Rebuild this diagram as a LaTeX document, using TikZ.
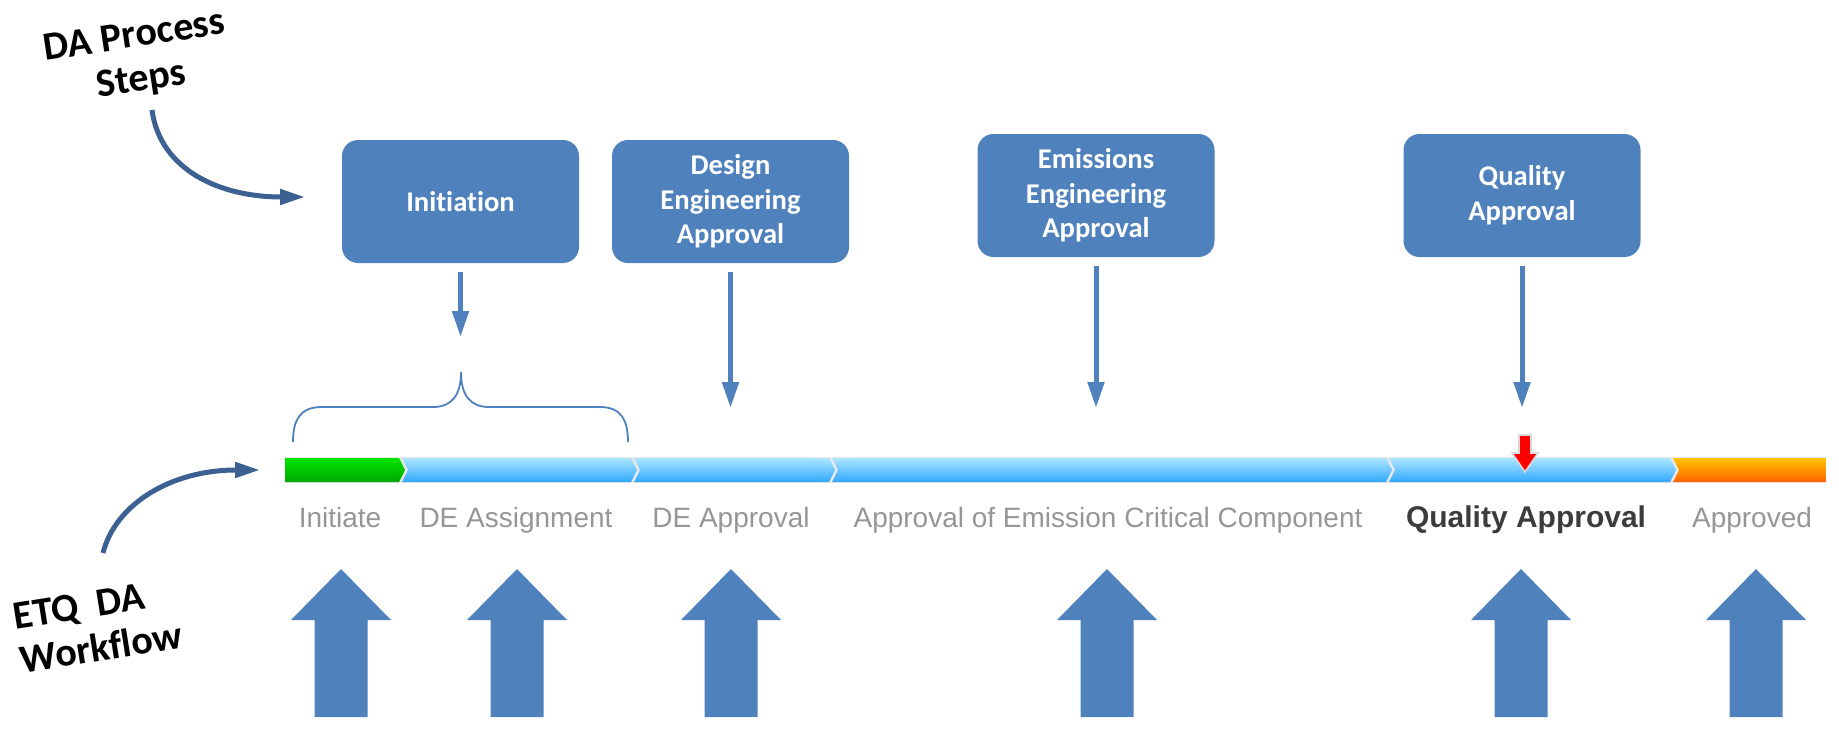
\documentclass[tikz,border=0pt]{standalone}
\usepackage{fontspec}
\setmainfont{Liberation Sans}
\newfontfamily\calibri[Ligatures=NoCommon]{Carlito}
\usetikzlibrary{arrows.meta}

\definecolor{boxblue}{RGB}{79,129,189}
\definecolor{curveblue}{RGB}{60,96,145}
\definecolor{labelgray}{RGB}{150,150,150}
\definecolor{darklabel}{RGB}{60,60,60}
\definecolor{bluetop}{RGB}{172,230,255}
\definecolor{bluebot}{RGB}{48,168,255}
\definecolor{greentop}{RGB}{0,228,0}
\definecolor{greenbot}{RGB}{0,168,0}
\definecolor{orangetop}{RGB}{255,196,0}
\definecolor{orangebot}{RGB}{255,98,0}

\tikzset{
  stepbox/.style={fill=boxblue, rounded corners=8pt, minimum width=118.5pt,
    minimum height=61.5pt, inner sep=0pt, text=white, align=center,
    font=\calibri\bfseries\fontsize{14.3}{17.3}\selectfont},
  callout/.style={align=center, inner sep=0pt,
    font=\calibri\bfseries\fontsize{20}{22}\selectfont},
  steplabel/.style={anchor=base, inner sep=0pt, text=labelgray,
    font=\fontsize{14}{17}\selectfont},
  steparrow/.style={boxblue, line width=2.5pt, shorten <=4.5pt,
    -{Triangle[length=13pt,width=8pt]}},
  curvearrow/.style={curveblue, line width=2.5pt,
    -{Triangle[length=12.5pt,width=7.5pt]}},
  greenbar/.style={top color=greentop, bottom color=greenbot},
  bluebar/.style={top color=bluetop, bottom color=bluebot},
  orangebar/.style={top color=orangetop, bottom color=orangebot}
}

\begin{document}
\begin{tikzpicture}[x=0.5pt,y=-0.5pt]
  \useasboundingbox (0,0) rectangle (1839,728);

  % DA process steps
  \path
    (460.5,201.5) node[stepbox] (init){Initiation}
    (730.5,201.5) node[stepbox] (design){Design\\Engineering\\Approval}
    (1096,195.5) node[stepbox] (emis){Emissions\\Engineering\\Approval}
    (1522,195.5) node[stepbox] (qual){Quality\\Approval};

  % side captions
  \node[callout, rotate=8.6] (proc) at (138,59) {DA Process\\Steps};
  \node[callout, rotate=9, align=left] (etq) at (98,626) {ETQ\ \ DA\\Workflow};

  \coordinate (procfrom) at (152,110);
  \coordinate (procto) at (305,197);
  \coordinate (etqfrom) at (103,553);
  \coordinate (etqto) at (260,470);
  \draw[curvearrow] (procfrom) .. controls (160,170) and (220,197) .. (procto);
  \draw[curvearrow] (etqfrom) .. controls (115,505) and (170,470) .. (etqto);

  % step arrows
  \coordinate (initend) at (460.5,337);
  \coordinate (designend) at (730.5,408);
  \coordinate (emisend) at (1096,408);
  \coordinate (qualend) at (1522,408);
  \begin{scope}[steparrow]
    \draw (init) -- (initend);
    \draw (design) -- (designend);
    \draw (emis) -- (emisend);
    \draw (qual) -- (qualend);
  \end{scope}

  % brace over first two stages
  \draw[boxblue, line width=0.9pt]
    (293,442) .. controls (293,420) and (300,407) .. (322,407) -- (433,407)
    .. controls (452,407) and (461,395) .. (461,372)
    .. controls (461,395) and (470,407) .. (489,407) -- (600,407)
    .. controls (621,407) and (628,420) .. (628,442);

  % workflow bar
  \fill[gray!18] (285,457) rectangle (1826,483);
  \shade[greenbar] (285,458) -- (399,458) -- (405,470) -- (399,482) -- (285,482) -- cycle;
  \foreach \l/\r in {408/637,640/835,838/1392,1395/1676}
    \shade[bluebar] ({\l-6},458) -- ({\r-6},458) -- (\r,470) -- ({\r-6},482)
      -- ({\l-6},482) -- (\l,470) -- cycle;
  \shade[orangebar] (1673,458) -- (1826,458) -- (1826,482) -- (1673,482) -- (1679,470) -- cycle;
  \filldraw[fill=red, draw=gray!30, line width=0.8pt]
    (1519,435) -- (1531,435) -- (1531,453) -- (1538,453) -- (1525,472)
    -- (1512,453) -- (1519,453) -- cycle;

  % workflow labels
  \path
    (340,527) node[steplabel] (initiate){Initiate}
    (516,527) node[steplabel] (deassign){DE Assignment}
    (731,527) node[steplabel] (deappr){DE Approval}
    (1108,527) node[steplabel] (ecc){Approval of Emission Critical Component}
    (1526,527) node[steplabel, text=darklabel,
      font=\bfseries\fontsize{15}{18}\selectfont] (qa){Quality Approval}
    (1752,527) node[steplabel] (approved){Approved};

  % big arrows under the labels
  \foreach \x in {341,517,731,1107,1521,1756}
    \fill[boxblue] ({\x-26.5},717) -- ({\x-26.5},620) -- ({\x-50},620) -- (\x,569)
      -- ({\x+50},620) -- ({\x+26.5},620) -- ({\x+26.5},717) -- cycle;
\end{tikzpicture}
\end{document}
